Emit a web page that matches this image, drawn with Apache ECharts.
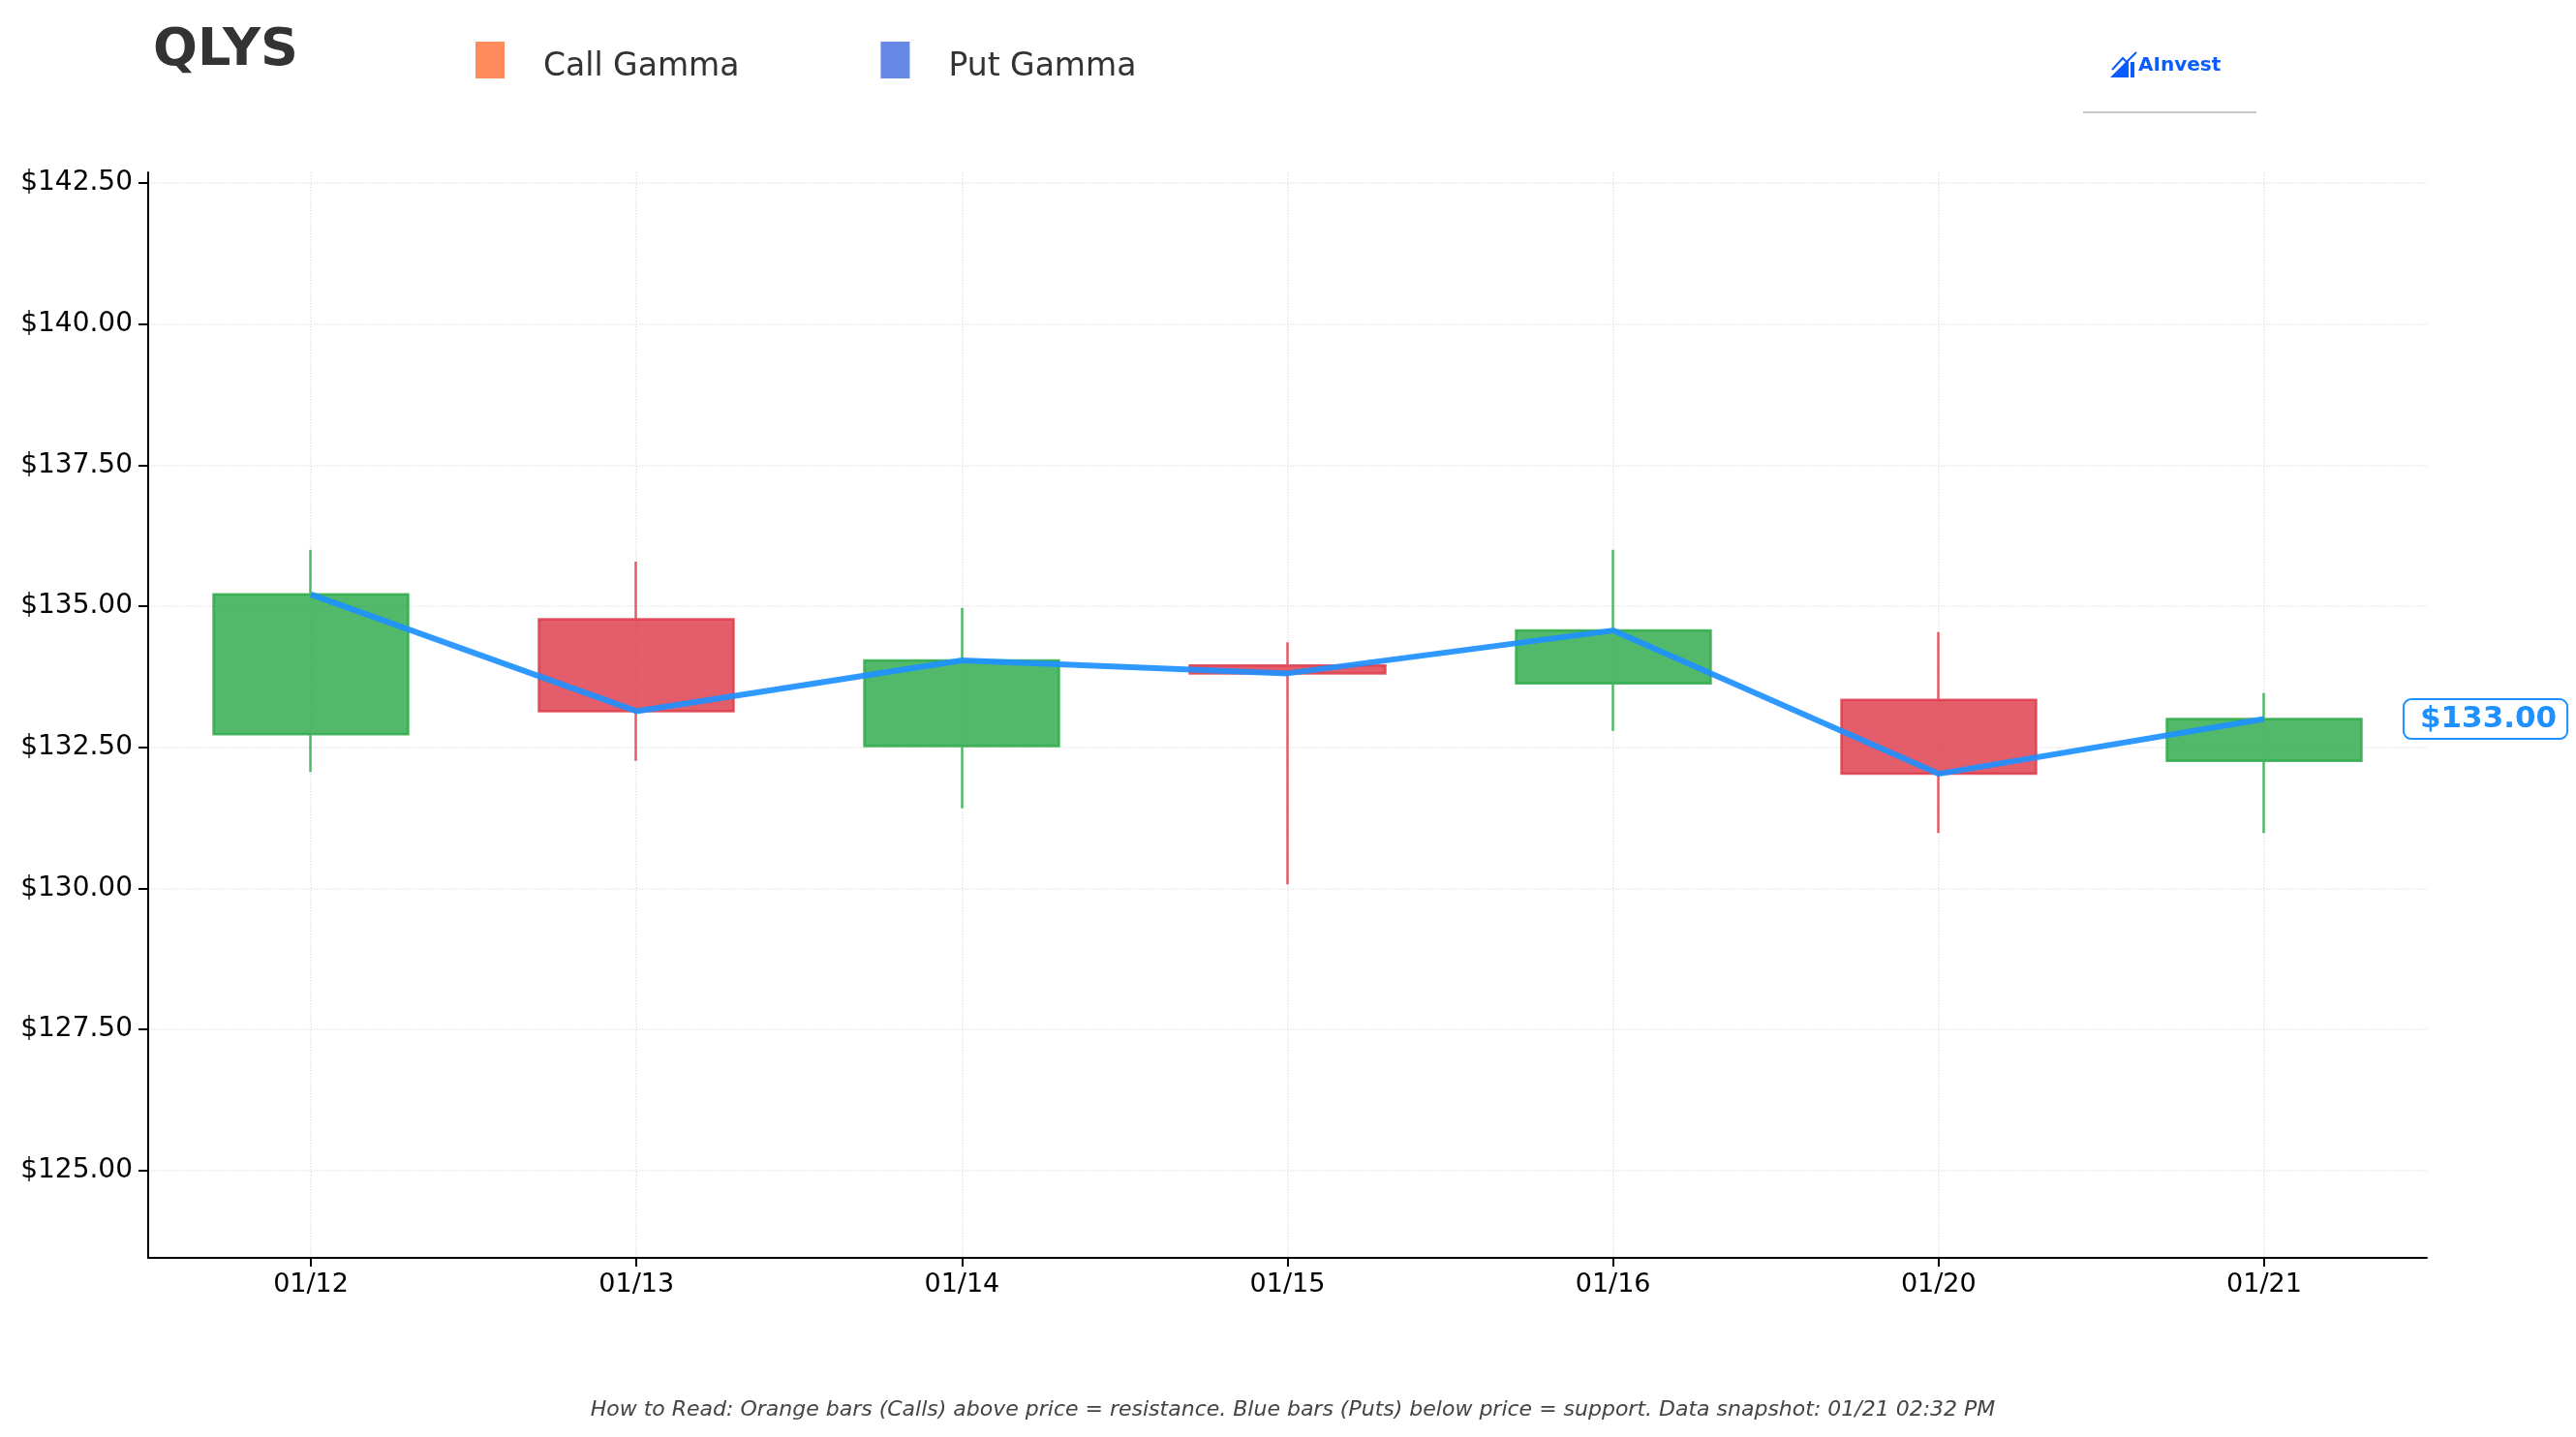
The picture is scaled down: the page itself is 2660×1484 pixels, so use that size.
<!DOCTYPE html>
<html>
<head>
<meta charset="utf-8">
<title>QLYS</title>
<script src="https://cdn.jsdelivr.net/npm/echarts@6/dist/echarts.min.js"></script>
<style>
  html, body { margin: 0; padding: 0; background: #fff; }
  #chart { width: 2660px; height: 1484px; }
</style>
</head>
<body>
<div id="chart"></div>
<script>
// dates on the x axis
const dates = ['01/12', '01/13', '01/14', '01/15', '01/16', '01/20', '01/21']
// candles: open, close, low, high
const opens = [132.73, 134.77, 132.52, 133.95, 133.63, 133.34, 132.26]
const closes = [135.21, 133.14, 134.04, 133.81, 134.57, 132.03, 133.00]
const lows = [132.06, 132.26, 131.42, 130.07, 132.79, 130.98, 130.98]
const highs = [136.00, 135.79, 134.97, 134.36, 136.00, 134.54, 133.46]
// price line (close)
const prices = [135.21, 133.14, 134.04, 133.81, 134.57, 132.03, 133.00]
// y tick labels
const yTicks = [125, 127.5, 130, 132.5, 135, 137.5, 140, 142.5]

const FONT = 'DejaVu Sans'
const chart = echarts.init(document.getElementById('chart'))

const candleData = dates.map((d, i) => [opens[i], closes[i], lows[i], highs[i]])

const option = {
  animation: false,
  backgroundColor: '#fff',
  textStyle: { fontFamily: FONT },
  title: [
    {
      text: 'QLYS',
      left: 153,
      top: 21,
      textStyle: { fontSize: 54, fontWeight: 'bold', color: '#333', fontFamily: FONT }
    },
    {
      text: 'How to Read: Orange bars (Calls) above price = resistance. Blue bars (Puts) below price = support. Data snapshot: 01/21 02:32 PM',
      left: 1330,
      textAlign: 'center',
      top: 1440,
      textStyle: { fontSize: 22, fontStyle: 'italic', fontWeight: 'normal', color: '#444', fontFamily: FONT }
    }
  ],
  legend: {
    left: 486,
    top: 38,
    itemWidth: 30,
    itemHeight: 38,
    itemGap: 146,
    icon: 'rect',
    selectedMode: false,
    data: ['Call Gamma', 'Put Gamma'],
    formatter: name => '{n|' + name + '}',
    textStyle: {
      color: '#333',
      fontFamily: FONT,
      padding: [0, 0, 0, 35],
      rich: {
        n: { fontSize: 33, color: '#333', fontFamily: FONT, padding: [14, 0, 0, 0] }
      }
    }
  },
  grid: {
    left: 153,
    right: 154,
    top: 178,
    bottom: 185
  },
  xAxis: {
    type: 'category',
    data: dates,
    boundaryGap: true,
    axisLine: { show: true, lineStyle: { color: '#000', width: 2 } },
    axisTick: { show: true, alignWithLabel: true, length: 9, lineStyle: { color: '#000', width: 2 } },
    axisLabel: { fontSize: 27, color: '#000', margin: 14, fontFamily: FONT },
    splitLine: { show: true, alignWithLabel: true, lineStyle: { color: '#e6e6e6', type: 'dotted', width: 1.5 } }
  },
  yAxis: {
    type: 'value',
    min: 123.45,
    max: 142.69,
    axisLine: { show: true, lineStyle: { color: '#000', width: 2 } },
    axisTick: { show: true, length: 10, customValues: yTicks, lineStyle: { color: '#000', width: 2 } },
    axisLabel: {
      fontSize: 28,
      color: '#000',
      margin: 16,
      fontFamily: FONT,
      customValues: yTicks,
      formatter: v => '$' + v.toFixed(2)
    },
    splitLine: { show: true, lineStyle: { color: '#e6e6e6', type: 'dotted', width: 1.5 } }
  },
  series: [
    {
      name: 'Call Gamma',
      type: 'bar',
      data: [],
      itemStyle: { color: '#ff8a5b' }
    },
    {
      name: 'Put Gamma',
      type: 'bar',
      data: [],
      itemStyle: { color: '#6688e6' }
    },
    {
      name: 'Price',
      type: 'candlestick',
      data: candleData,
      barWidth: '60%',
      itemStyle: {
        color: 'rgba(40,167,69,0.8)',
        color0: 'rgba(220,53,69,0.8)',
        borderColor: 'rgba(40,167,69,0.8)',
        borderColor0: 'rgba(220,53,69,0.8)',
        borderWidth: 2.5
      }
    },
    {
      name: 'Close',
      type: 'line',
      data: prices,
      symbol: 'none',
      z: 5,
      lineStyle: { color: '#1e90ff', width: 6, opacity: 0.92 },
      endLabel: {
        show: true,
        distance: 145,
        formatter: p => '$' + p.value.toFixed(2),
        color: '#1e90ff',
        fontSize: 31,
        fontWeight: 'bold',
        fontFamily: FONT,
        backgroundColor: '#fff',
        borderColor: '#1e90ff',
        borderWidth: 2,
        borderRadius: 7,
        padding: [5, 10, 3, 16]
      }
    }
  ],
  graphic: [
    // AInvest logo
    {
      type: 'polygon',
      shape: { points: [[2179, 80], [2198, 61], [2198, 80]] },
      style: { fill: '#0a5cff' }
    },
    {
      type: 'polyline',
      shape: { points: [[2181, 72], [2192, 60], [2196, 64], [2206, 54]] },
      style: { stroke: '#0a5cff', lineWidth: 2, fill: null }
    },
    {
      type: 'rect',
      shape: { x: 2200, y: 64, width: 4, height: 16 },
      style: { fill: '#0a5cff' }
    },
    {
      type: 'text',
      left: 2208,
      top: 58,
      style: { text: 'AInvest', fill: '#0a5cff', font: 'bold 20px "DejaVu Sans"' }
    },
    {
      type: 'line',
      shape: { x1: 2151, y1: 116, x2: 2330, y2: 116 },
      style: { stroke: '#c8c8c8', lineWidth: 2 }
    }
  ]
}

chart.setOption(option)
</script>
</body>
</html>
